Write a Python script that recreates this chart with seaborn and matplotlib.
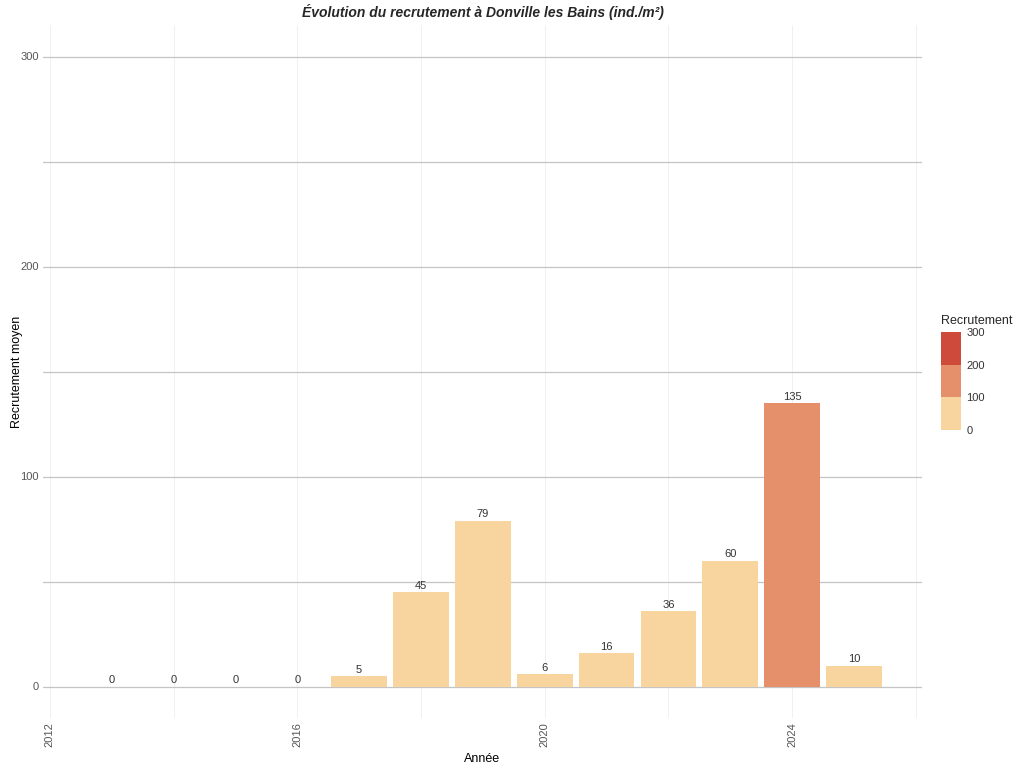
import numpy as np
import pandas as pd
import seaborn as sns
import matplotlib
matplotlib.use('Agg')
from matplotlib import pyplot as plt
from matplotlib.colors import ListedColormap, BoundaryNorm
from matplotlib.ticker import MultipleLocator


# data
annees = [2013, 2014, 2015, 2016, 2017, 2018, 2019, 2020, 2021, 2022, 2023, 2024, 2025]
recrutement = [0, 0, 0, 0, 5, 45, 79, 6, 16, 36, 60, 135, 10]

# binned colour scale
bornes = [0, 100, 200, 300]
couleurs = ['#F8D59F', '#E5906A', '#CE4A3A']
classes = ['0-100', '100-200', '200-300']

df = pd.DataFrame({'annee': annees, 'recrutement': recrutement})
df['classe'] = pd.cut(df['recrutement'], bins = bornes, labels = classes,
                      right = False, include_lowest = True).astype(str)


sns.set_theme(style = 'white')
plt.rcParams['font.family'] = ['Liberation Sans', 'DejaVu Sans']

fig = plt.figure(figsize = (10.24, 7.68), dpi = 100)
ax = fig.add_axes([43/1024, 1 - 718/768, (922 - 43)/1024, (718 - 25)/768])

sns.barplot(data = df, x = 'annee', y = 'recrutement', hue = 'classe',
            palette = dict(zip(classes, couleurs)), hue_order = classes,
            native_scale = True, width = 0.9, dodge = False, legend = False,
            saturation = 1, linewidth = 0, edgecolor = 'none', ax = ax)

# value labels on top of the bars
for cont in ax.containers:
    ax.bar_label(cont, labels = [f'{v:.0f}' for v in cont.datavalues],
                 padding = 1, fontsize = 8, color = '#333333')

ax.set_xlim(2011.89, 2026.1)
ax.set_ylim(-15, 315)
ax.xaxis.set_minor_locator(MultipleLocator(2))
ax.yaxis.set_major_locator(MultipleLocator(100))
ax.yaxis.set_minor_locator(MultipleLocator(50))
ax.set_xticks([2012, 2016, 2020, 2024])
ax.set_xticklabels(['2012', '2016', '2020', '2024'], rotation = 90)

ax.grid(True, which = 'both', axis = 'y', color = '#C4C4C4', linewidth = 0.9)
ax.grid(True, which = 'both', axis = 'x', color = '#F0F0F0', linewidth = 0.7)
ax.set_axisbelow(True)
for s in ax.spines.values():
    s.set_visible(False)
ax.tick_params(which = 'both', length = 0, labelsize = 8, labelcolor = '#555555', pad = 3)

ax.set_xlabel('Année', fontsize = 9, color = 'black')
ax.set_ylabel('Recrutement moyen', fontsize = 9, color = 'black')
ax.yaxis.set_label_coords(-0.023, 0.5)
ax.set_title('Évolution du recrutement à Donville les Bains (ind./m²)',
             fontsize = 10, fontweight = 'bold', fontstyle = 'italic', pad = 6)

# binned legend
cax = fig.add_axes([941/1024, 1 - 430/768, 20/1024, 98/768])
cb = fig.colorbar(matplotlib.cm.ScalarMappable(norm = BoundaryNorm(bornes, 3),
                                               cmap = ListedColormap(couleurs)),
                  cax = cax, ticks = bornes)
cb.outline.set_visible(False)
cax.tick_params(length = 0, labelsize = 8, labelcolor = '#333333', pad = 4)
fig.text(941/1024, 1 - 321/768, 'Recrutement', fontsize = 9, va = 'center', ha = 'left')

plt.savefig('out.png', dpi = 100)
